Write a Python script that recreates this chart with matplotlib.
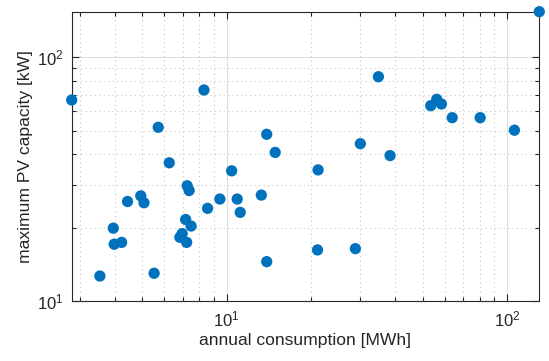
import matplotlib
matplotlib.use("Agg")
import matplotlib.pyplot as plt
from matplotlib.ticker import LogLocator, NullFormatter, LogFormatterMathtext

plt.rcParams['font.family'] = ['Liberation Sans', 'DejaVu Sans']

consumption = [2.80, 3.53, 3.94, 3.97, 4.22, 4.43, 4.94, 5.07, 5.51, 5.70,
               6.24, 6.81, 6.94, 7.14, 7.20, 7.23, 7.35, 7.47, 8.30, 8.55,
               9.46, 10.42, 10.91, 11.18, 13.3, 13.9, 14.9, 13.9, 21.2, 21.1,
               28.8, 30.0, 34.8, 38.3, 53.5, 56.2, 58.4, 63.8, 80.3, 106.4,
               130.5]
pv_capacity = [66.8, 12.66, 19.9, 17.1, 17.4, 25.6, 27.0, 25.3, 13.0, 51.6,
               36.9, 18.25, 18.9, 21.6, 17.4, 29.7, 28.4, 20.3, 73.4, 24.0,
               26.2, 34.2, 26.2, 23.1, 27.2, 48.3, 40.7, 14.5, 34.5, 16.2,
               16.4, 44.2, 83.2, 39.5, 63.3, 67.2, 64.3, 56.5, 56.5, 50.2,
               153.8]
xlabel = "annual consumption [MWh]"
ylabel = "maximum PV capacity [kW]"

fig = plt.figure(figsize=(5.49, 3.61), dpi=100)
ax = fig.add_axes([0.1306, 0.1662, 0.9823 - 0.1306, 0.9676 - 0.1662])
ax.set_xscale('log')
ax.set_yscale('log')
ax.scatter(consumption, pv_capacity, s=66, color='#0072BD', edgecolors='none',
           zorder=3, clip_on=False)
ax.set_xlim(min(consumption), max(consumption))
ax.set_ylim(10, max(pv_capacity))

for axis in (ax.xaxis, ax.yaxis):
    axis.set_major_locator(LogLocator(base=10))
    axis.set_minor_locator(LogLocator(base=10, subs=range(2, 10)))
    axis.set_major_formatter(LogFormatterMathtext())
    axis.set_minor_formatter(NullFormatter())

ax.grid(True, which='major', color='#dedede', linestyle='-', linewidth=0.8)
ax.grid(True, which='minor', color='#c8c8c8', linestyle=(0, (1, 3)), linewidth=0.8)
ax.set_axisbelow(True)

ax.tick_params(which='both', direction='in', top=True, right=True,
               colors='#262626', labelsize=12, width=0.8)
ax.tick_params(which='major', length=5, pad=6)
ax.tick_params(which='minor', length=3)
for sp in ax.spines.values():
    sp.set_color('#262626')
    sp.set_linewidth(0.8)

ax.set_xlabel(xlabel, fontsize=12.6, color='#262626', labelpad=3)
ax.set_ylabel(ylabel, fontsize=12.6, color='#262626', labelpad=3)

fig.savefig('out.png', dpi=100)
